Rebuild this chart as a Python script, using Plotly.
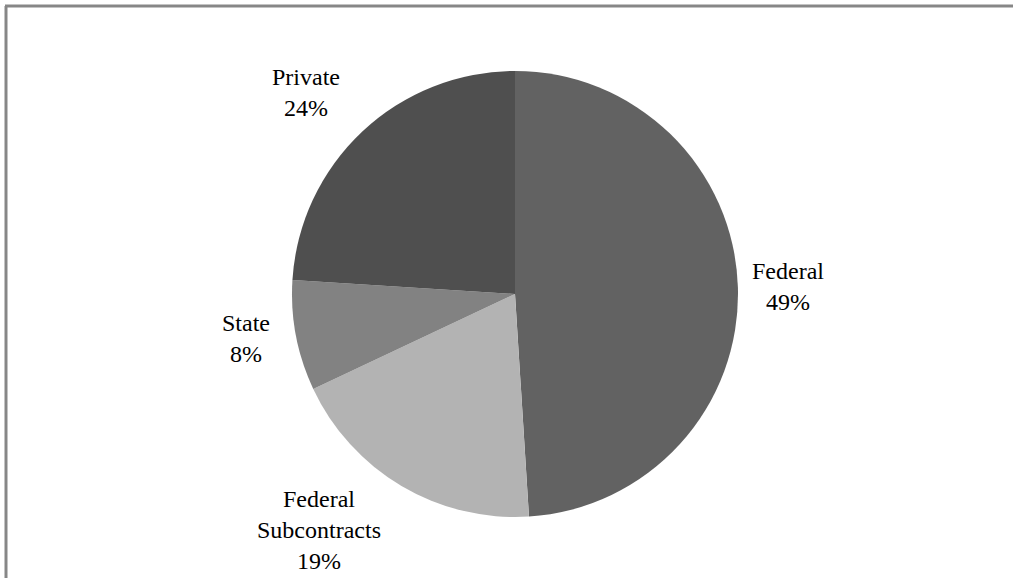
import math
import plotly.graph_objects as go

categories = ["Federal", "Federal<br>Subcontracts", "State", "Private"]
values = [49, 19, 8, 24]
colors = ["#626262", "#b3b3b3", "#828282", "#4f4f4f"]

W, H = 1013, 578
cx, cy, r = 515, 294, 223
FONT = "Liberation Serif"
GAP = 12

fig = go.Figure(go.Pie(
    labels=categories,
    values=values,
    sort=False,
    direction="clockwise",
    rotation=0,
    marker=dict(colors=colors, line=dict(width=0)),
    textinfo="none",
    showlegend=False,
    hoverinfo="label+percent",
    domain=dict(x=[(cx - r) / W, (cx + r) / W], y=[(H - cy - r) / H, (H - cy + r) / H]),
))

# Outside labels, placed along each slice's mid-angle (computed from the values)
total = sum(values)
cum = 0
annotations = []
for lab, v in zip(categories, values):
    mid = (cum + v / 2) / total * 2 * math.pi
    cum += v
    s, c = math.sin(mid), math.cos(mid)
    px = cx + (r + GAP) * s
    py = cy - (r + GAP) * c
    xa = "left" if s > 0.3 else ("right" if s < -0.3 else "center")
    ya = "bottom" if c > 0.3 else ("top" if c < -0.3 else "middle")
    annotations.append(dict(
        x=px / W, y=1 - py / H, xref="paper", yref="paper",
        text=f"{lab}<br>{round(v / total * 100)}%",
        showarrow=False, xanchor=xa, yanchor=ya, align="center",
        xshift=-12 if xa == "right" else 0,
        yshift=12 if ya == "top" else 0,
        font=dict(family=FONT, size=24, color="#000000"),
    ))

fig.update_layout(
    width=W, height=H,
    margin=dict(l=0, r=0, t=0, b=0),
    paper_bgcolor="white",
    plot_bgcolor="white",
    font=dict(family=FONT),
    annotations=annotations,
    shapes=[
        dict(type="line", xref="paper", yref="paper", x0=5 / W, x1=1, y0=1 - 6 / H, y1=1 - 6 / H,
             line=dict(color="#878787", width=3)),
        dict(type="line", xref="paper", yref="paper", x0=6 / W, x1=6 / W, y0=0, y1=1 - 6 / H,
             line=dict(color="#878787", width=3)),
    ],
)

fig.write_html("out.html", config={"displayModeBar": False},
               post_script="document.body.style.margin='0';document.body.style.overflow='hidden';")
